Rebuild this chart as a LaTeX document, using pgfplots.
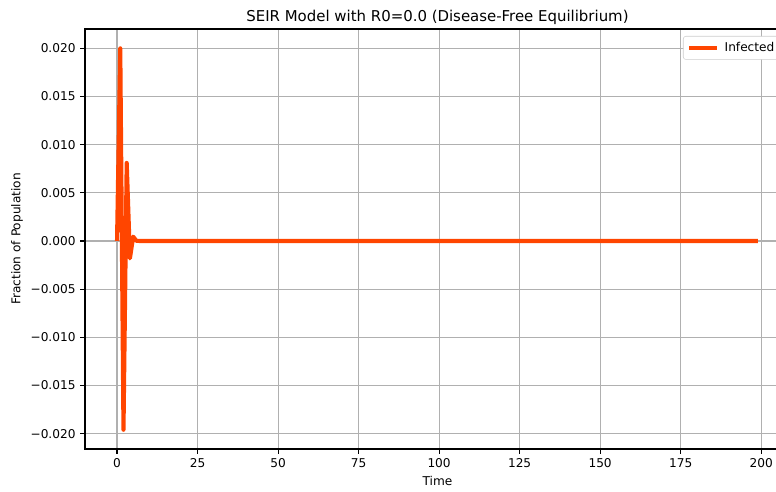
\documentclass[border=0pt]{standalone}
\usepackage{pgfplots}
\pgfplotsset{compat=1.18}
\usepackage{fontspec}
\setmainfont{DejaVu Sans}
\definecolor{infected}{HTML}{FF4500}
\definecolor{gridgray}{HTML}{B0B0B0}
\definecolor{legendedge}{HTML}{CCCCCC}
\begin{document}
\begin{tikzpicture}
\begin{axis}[
  at={(63.75pt,32.25pt)}, anchor=south west,
  width=528.75pt, height=315pt, scale only axis,
  xmin=-9.95, xmax=208.95, ymin=-0.0216, ymax=0.02201,
  xtick={0,25,50,75,100,125,150,175,200},
  xticklabels={0,25,50,75,100,125,150,175,200},
  ytick={-0.02,-0.015,-0.01,-0.005,0,0.005,0.01,0.015,0.02},
  yticklabels={−0.020,−0.015,−0.010,−0.005,0.000,0.005,0.010,0.015,0.020},
  scaled y ticks=false,
  grid=major,
  major grid style={gridgray, line width=0.83pt},
  axis line style={black, line width=0.83pt},
  tick style={black, line width=0.83pt},
  major tick length=3.6pt, tick align=outside,
  xtick pos=bottom, ytick pos=left,
  ticklabel style={font=\fontsize{9.1}{11}\selectfont},
  xlabel={Time}, ylabel={Fraction of Population},
  label style={font=\fontsize{9.1}{11}\selectfont},
  xlabel style={at={(axis description cs:0.5,-0.0762)}, anchor=center},
  ylabel style={at={(axis description cs:-0.0965,0.5)}, anchor=center},
  title={SEIR Model with R0=0.0 (Disease-Free Equilibrium)},
  title style={font=\fontsize{11.2}{13}\selectfont,
    at={(axis description cs:0.5,1.031)}, anchor=center, yshift=-6.75pt},
  legend style={at={(0.8482,1)}, anchor=north west, yshift=-5.25pt,
    draw=legendedge, rounded corners=2pt, font=\fontsize{9.1}{11}\selectfont,
    inner xsep=3pt, inner ysep=2.5pt},
  legend image code/.code={\draw[#1, line width=3.1pt] (0pt,0pt) -- (21pt,0pt);
    \path (23pt,0pt);},
  clip=true,
]
\addplot[infected, line width=3.1pt, line join=round] coordinates {
  (0,0) (1,0.0200) (2,-0.0196) (3,0.0081) (4,-0.0018) (5,0.00045)
  (6,0.00002) (7,0) (8,0) (199,0)
};
\addlegendentry{Infected}
\end{axis}
\pgfresetboundingbox
\path[use as bounding box] (0,0) rectangle (582pt,369pt);
\end{tikzpicture}
\end{document}
